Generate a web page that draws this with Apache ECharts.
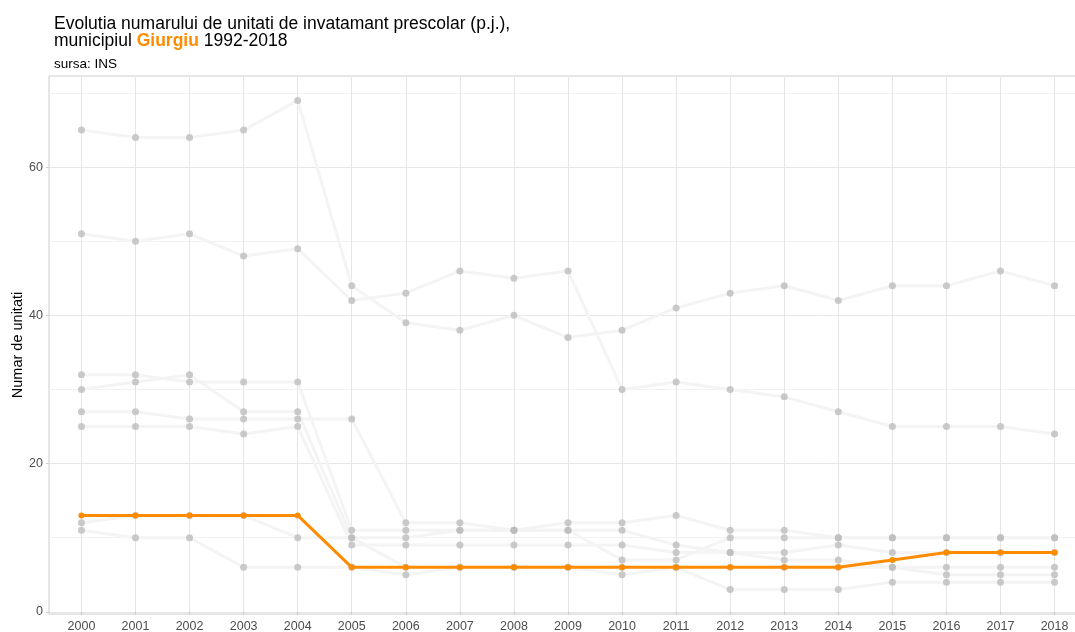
<!DOCTYPE html>
<html>
<head>
<meta charset="utf-8">
<script src="https://cdn.jsdelivr.net/npm/echarts@6/dist/echarts.min.js"></script>
<style>
html, body { margin: 0; padding: 0; background: #fff; }
#chart { width: 1075px; height: 632px; }
</style>
</head>
<body>
<div id="chart"></div>
<script>
// ani
var years = [2000, 2001, 2002, 2003, 2004, 2005, 2006, 2007, 2008, 2009, 2010, 2011, 2012, 2013, 2014, 2015, 2016, 2017, 2018];

// municipiul Giurgiu
var giurgiu = [13, 13, 13, 13, 13, 6, 6, 6, 6, 6, 6, 6, 6, 6, 6, 7, 8, 8, 8];

// celelalte municipii (gri)
var altA = [65, 64, 64, 65, 69, 44, 39, 38, 40, 37, 38, 41, 43, 44, 42, 44, 44, 46, 44];
var altB = [51, 50, 51, 48, 49, 42, 43, 46, 45, 46, 30, 31, 30, 29, 27, 25, 25, 25, 24];
var altC = [32, 32, 31, 31, 31, 11, 11, 11, 11, 11, 11, 9, 8, 8, 9, 8, 8, 8, 8];
var altD = [30, 31, 32, 27, 27, 10, 10, 11, 11, 11, 7, 7, 10, 10, 10, 10, 10, 10, 10];
var altE = [27, 27, 26, 26, 26, 26, 12, 12, 11, 12, 12, 13, 11, 11, 10, 10, 10, 10, 10];
var altF = [25, 25, 25, 24, 25, 9, 9, 9, 9, 9, 9, 8, 8, 7, 7, 6, 6, 6, 6];
var altG = [12, 13, 13, 13, 10, 10, 6, 6, 6, 6, 6, 6, 6, 6, 6, 6, 5, 5, 5];
var altH = [11, 10, 10, 6, 6, 6, 5, 6, 6, 6, 5, 6, 3, 3, 3, 4, 4, 4, 4];

var yMajor = [0, 20, 40, 60];
var yMinor = [10, 30, 50, 70];

function pairs(vals) {
    var out = [];
    for (var i = 0; i < years.length; i++) {
        out.push([years[i], vals[i]]);
    }
    return out;
}

var myChart = echarts.init(document.getElementById('chart'));
var font = 'Liberation Sans, Arial, sans-serif';

var others = [altA, altB, altC, altD, altE, altF, altG, altH];
var series = [];
var grayPoints = [];
for (var k = 0; k < others.length; k++) {
    series.push({
        type: 'line',
        data: pairs(others[k]),
        symbol: 'none',
        lineStyle: { color: '#f4f4f4', width: 3 },
        z: 2
    });
    grayPoints = grayPoints.concat(pairs(others[k]));
}
series.push({
    type: 'scatter',
    data: grayPoints,
    symbolSize: 7,
    itemStyle: { color: '#bdbdbd' },
    z: 3
});
series.push({
    name: 'Giurgiu',
    type: 'line',
    data: pairs(giurgiu),
    symbol: 'circle',
    symbolSize: 6,
    lineStyle: { color: '#ff8c00', width: 3 },
    itemStyle: { color: '#ff8c00' },
    z: 4
});

var option = {
    animation: false,
    backgroundColor: '#fff',
    title: [
        {
            text: 'Evolutia numarului de unitati de invatamant prescolar (p.j.),\nmunicipiul {g|Giurgiu} 1992-2018',
            left: 49,
            top: 10,
            textStyle: {
                fontFamily: font,
                fontSize: 17.5,
                fontWeight: 'normal',
                color: '#000',
                lineHeight: 17.5,
                rich: {
                    g: { fontFamily: font, fontSize: 17.5, fontWeight: 'bold', color: '#ff8c00', lineHeight: 17.5 }
                }
            }
        },
        {
            text: 'sursa: INS',
            left: 49,
            top: 52,
            textStyle: { fontFamily: font, fontSize: 13.5, fontWeight: 'normal', color: '#000' }
        }
    ],
    grid: {
        left: 49,
        top: 76,
        width: 1038,
        height: 538,
        show: true,
        borderColor: '#cccccc',
        borderWidth: 1,
        backgroundColor: '#fff',
        outerBoundsMode: 'none'
    },
    xAxis: {
        type: 'value',
        min: 1999.4,
        max: 2018.6,
        axisLine: { show: false },
        axisTick: { show: true, customValues: years, length: 3, lineStyle: { color: '#cccccc' } },
        axisLabel: {
            customValues: years,
            color: '#4d4d4d',
            fontFamily: font,
            fontSize: 12.5,
            margin: 6,
            formatter: function (v) { return String(v); }
        },
        splitLine: { show: true, lineStyle: { color: '#e6e6e6', width: 1 } }
    },
    yAxis: [
        {
            type: 'value',
            min: -0.3,
            max: 72.3,
            name: 'Numar de unitati',
            nameLocation: 'middle',
            nameGap: 24,
            nameMoveOverlap: false,
            nameTextStyle: { fontFamily: font, fontSize: 14.5, color: '#000' },
            axisLine: { show: false },
            axisTick: { show: true, customValues: yMajor, length: 3, lineStyle: { color: '#cccccc' } },
            axisLabel: {
                customValues: yMajor,
                color: '#4d4d4d',
                fontFamily: font,
                fontSize: 12.5,
                margin: 6
            },
            splitLine: { show: true, lineStyle: { color: '#e6e6e6', width: 1 } }
        },
        {
            type: 'value',
            min: -0.3,
            max: 72.3,
            position: 'left',
            axisLine: { show: false },
            axisTick: { show: false, customValues: yMinor },
            axisLabel: { show: false, customValues: yMinor },
            splitLine: { show: true, lineStyle: { color: '#f2f2f2', width: 1 } }
        }
    ],
    series: series
};

myChart.setOption(option);
window.addEventListener('resize', function () { myChart.resize(); });
</script>
</body>
</html>
